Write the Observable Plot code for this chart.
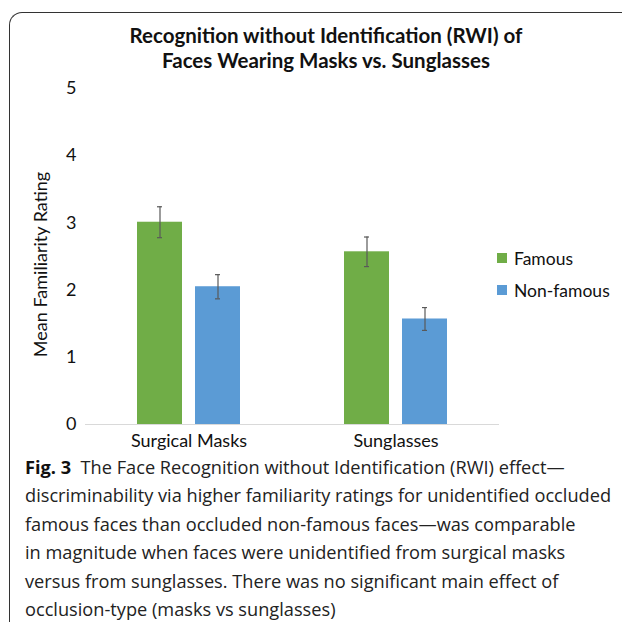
<!DOCTYPE html>
<html>
<head>
<meta charset="utf-8">
<script src="https://cdn.jsdelivr.net/npm/d3@7"></script>
<script src="https://cdn.jsdelivr.net/npm/@observablehq/plot@0.6"></script>
<style>
  html, body { margin: 0; padding: 0; background: #fff; }
  #root { position: relative; width: 622px; height: 622px; overflow: hidden; background: #fff; }
  #frame { position: absolute; left: 9px; top: 12px; width: 700px; height: 700px;
           border-left: 1.3px solid #333; border-top: 1.3px solid #333; border-top-left-radius: 13px; }
  #title { position: absolute; left: 0; top: 23px; width: 652px; text-align: center;
           font-family: Lato, sans-serif; font-weight: 700; font-size: 20.5px; line-height: 25px; color: #111; }
  #chart { position: absolute; left: 0; top: 0; }
  #legend { position: absolute; left: 497px; top: 242px; font-family: Lato, sans-serif; font-size: 17.5px; color: #111; }
  #legend .item { display: flex; align-items: center; height: 32px; }
  #legend .sw { width: 10px; height: 10px; margin-right: 7px; }
  #caption { position: absolute; left: 25px; top: 453px; font-family: "Open Sans", sans-serif; font-size: 18.2px;
             line-height: 28.4px; color: #222; letter-spacing: 0px; white-space: nowrap; }
  #caption b { font-weight: 700; color: #111; }
</style>
</head>
<body>
<div id="root">
  <div id="frame"></div>
  <div id="title"></div>
  <div id="chart"></div>
  <div id="legend"></div>
  <div id="caption"></div>
</div>
<script>
// ---- data ----
const titleLines = ["Recognition without Identification (RWI) of", "Faces Wearing Masks vs. Sunglasses"];
const conditions = ["Surgical Masks", "Sunglasses"];
const groups = ["Famous", "Non-famous"];
const famousMeans = [3.01, 2.57];
const nonFamousMeans = [2.05, 1.57];
const famousErr = [0.23, 0.22];
const nonFamousErr = [0.18, 0.17];
const groupColors = ["#70AD47", "#5B9BD5"];
const yTicks = [0, 1, 2, 3, 4, 5];
const yLabel = "Mean Familiarity Rating";
const captionLead = "Fig. 3";
const captionLines = [
  "The Face Recognition without Identification (RWI) effect\u2014",
  "discriminability via higher familiarity ratings for unidentified occluded",
  "famous faces than occluded non-famous faces\u2014was comparable",
  "in magnitude when faces were unidentified from surgical masks",
  "versus from sunglasses. There was no significant main effect of",
  "occlusion-type (masks vs sunglasses)"
];

// ---- table ----
const rows = [];
conditions.forEach((c, i) => {
  rows.push({cond: c, group: groups[0], mean: famousMeans[i], err: famousErr[i]});
  rows.push({cond: c, group: groups[1], mean: nonFamousMeans[i], err: nonFamousErr[i]});
});
rows.forEach(r => { r.lo = r.mean - r.err; r.hi = r.mean + r.err; });

// ---- title ----
document.getElementById("title").innerHTML = titleLines.map(t => `<div>${t}</div>`).join("");

// ---- chart ----
const chart = Plot.plot({
  width: 622,
  height: 455,
  marginTop: 88,
  marginBottom: 31,
  marginLeft: 84,
  marginRight: 123,
  style: {fontFamily: "Lato, sans-serif", fontSize: "18px", color: "#111", background: "transparent"},
  fx: {domain: conditions, padding: 0, label: null, axis: "bottom", tickSize: 0, tickPadding: 10},
  x: {domain: groups, paddingInner: 0.22, paddingOuter: 0.87, axis: null},
  y: {domain: [0, 5], ticks: yTicks, tickSize: 0, tickPadding: 9, label: yLabel,
      labelAnchor: "center", labelArrow: "none", labelOffset: 51, tickFormat: d3.format("d")},
  color: {domain: groups, range: groupColors},
  marks: [
    Plot.barY(rows, {fx: "cond", x: "group", y: "mean", fill: "group"}),
    Plot.ruleY([0], {stroke: "#d9d9d9", strokeWidth: 1.2}),
    Plot.ruleX(rows, {fx: "cond", x: "group", y1: "lo", y2: "hi", stroke: "#595959", strokeWidth: 1.2}),
    Plot.tickY(rows, {fx: "cond", x: "group", y: "lo", stroke: "#595959", strokeWidth: 1.2, insetLeft: 20, insetRight: 20}),
    Plot.tickY(rows, {fx: "cond", x: "group", y: "hi", stroke: "#595959", strokeWidth: 1.2, insetLeft: 20, insetRight: 20})
  ]
});
document.getElementById("chart").appendChild(chart);
// nudge the y-axis title slightly down, as in the reference (keeping Plot's own transform)
const yl = chart.querySelector('g[aria-label="y-axis label"]');
if (yl) yl.setAttribute("transform", `translate(0,8) ${yl.getAttribute("transform") || ""}`);

// ---- legend ----
document.getElementById("legend").innerHTML = groups.map((g, i) =>
  `<div class="item"><span class="sw" style="background:${groupColors[i]}"></span><span>${g}</span></div>`).join("");

// ---- caption ----
document.getElementById("caption").innerHTML = captionLines.map((t, i) =>
  `<div>${i === 0 ? `<b>${captionLead}</b>&nbsp;&nbsp;` : ""}${t}</div>`).join("");
</script>
</body>
</html>
